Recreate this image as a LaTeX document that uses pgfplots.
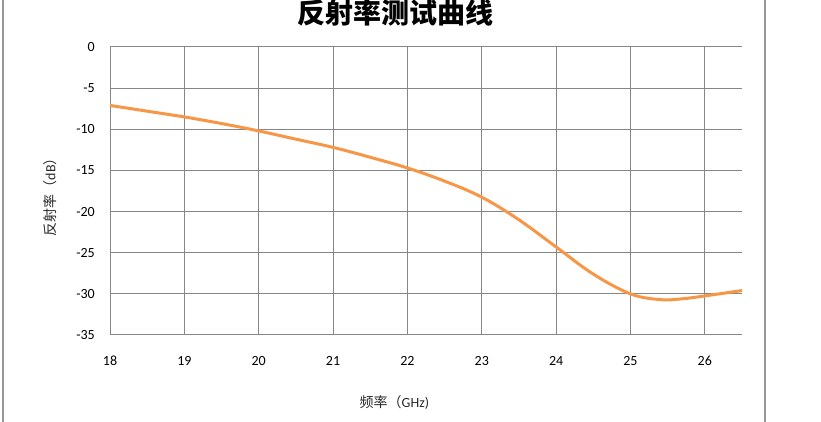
\documentclass[border=0pt]{standalone}
\usepackage{fontspec}
\setmainfont{Carlito}
\newfontfamily\cjk{Noto Sans CJK SC}
\usepackage{pgfplots}
\pgfplotsset{compat=1.18}

\definecolor{gridgray}{RGB}{134,134,134}
\definecolor{framegray}{RGB}{150,150,150}
\definecolor{curveorange}{RGB}{247,150,70}
\definecolor{labeltext}{RGB}{40,40,40}

\begin{document}
\begin{tikzpicture}[x=1pt,y=1pt]
  \useasboundingbox (0,0) rectangle (821,422);
  % chart frame (left and right edges)
  \draw[framegray, line width=2pt] (3,0) -- (3,422);
  \draw[framegray, line width=2pt] (765,0) -- (765,422);
  % title
  \node[font={\cjk\bfseries\fontsize{28}{30}\selectfont}, text=black] at (395,409.5) {反射率测试曲线};

  \begin{axis}[
      at={(110pt,87pt)}, anchor=south west,
      scale only axis,
      width=632pt, height=288pt,
      xmin=18, xmax=26.5,
      ymin=-35, ymax=0,
      xtick={18,19,...,26},
      ytick={-35,-30,...,0},
      axis x line=bottom, axis y line=left,
      axis line style={gridgray, line width=1pt, -},
      grid=major,
      major grid style={gridgray, line width=1pt},
      major tick length=0pt,
      tick label style={font=\fontsize{14}{16}\selectfont, text=black},
      /pgf/number format/assume math mode=true,
      xticklabel style={anchor=north, inner sep=0pt, yshift=-21pt},
      yticklabel style={anchor=east, inner sep=0pt, xshift=-15pt},
      xlabel={{\cjk 频率（}GHz)},
      ylabel={{\cjk 反射率（}dB{\cjk ）}},
      label style={font=\fontsize{14}{16}\selectfont, text=labeltext},
      xlabel style={at={(axis description cs:0.450,-0.236)}, anchor=center},
      ylabel style={at={(axis description cs:-0.095,0.491)}, anchor=center, rotate=0},
      clip=false,
    ]
    \addplot[curveorange, line width=3pt, smooth, tension=0.6] coordinates {
      (18,-7.1) (18.5,-7.8) (19,-8.5) (19.5,-9.3) (20,-10.2)
      (20.5,-11.2) (21,-12.2) (21.5,-13.4) (22,-14.7) (22.5,-16.3)
      (23,-18.25) (23.5,-21.0) (24,-24.3) (24.5,-27.6) (25,-30.0)
      (25.4,-30.7) (25.7,-30.6) (26,-30.25) (26.5,-29.6)
    };
  \end{axis}
\end{tikzpicture}
\end{document}
